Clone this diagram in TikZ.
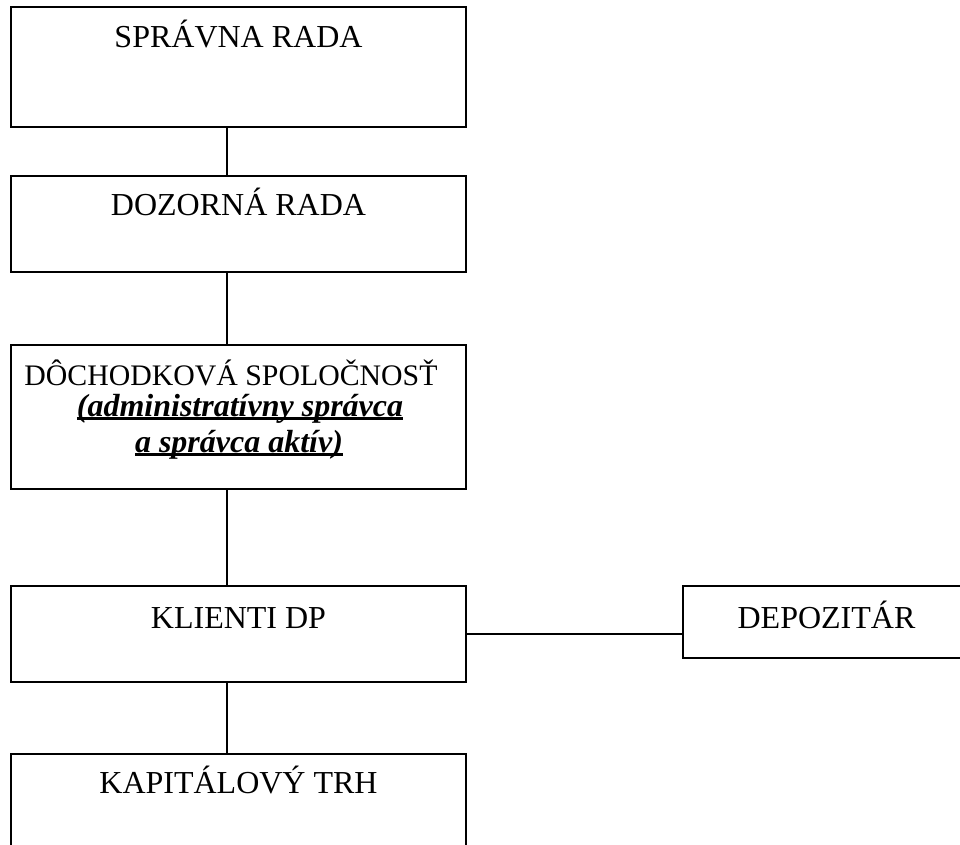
\documentclass[tikz,border=0pt]{standalone}
\usepackage{fontspec}
\setmainfont{Liberation Serif}
\newcommand\ulline[1]{\setbox0\hbox{#1}\rlap{\rule[-4pt]{\wd0}{2.8pt}}\box0}
\tikzset{
  box/.style={draw=black, line width=1.6pt, rectangle, inner sep=0pt, fill=none},
  txt/.style={anchor=base, inner sep=0pt, font=\fontsize{32}{34}\selectfont},
  stx/.style={txt, font=\fontsize{29.8}{32}\selectfont},
  itx/.style={txt, font=\fontsize{32}{34}\selectfont\bfseries\itshape},
  conn/.style={draw=black, line width=1.6pt}
}
\begin{document}
\begin{tikzpicture}[x=1pt,y=-1pt]
\useasboundingbox (0,0) rectangle (960,845);
\node[box, minimum width=455pt, minimum height=120pt] (b1) at (238.5,67) {};
\node[box, minimum width=455pt, minimum height=96pt] (b2) at (238.5,224) {};
\node[box, minimum width=455pt, minimum height=144pt] (b3) at (238.5,417) {};
\node[box, minimum width=455pt, minimum height=96pt] (b4) at (238.5,634) {};
\node[box, minimum width=455pt, minimum height=130pt] (b5) at (238.5,819) {};
\node[box, minimum width=287pt, minimum height=72pt] (dep) at (826.5,622) {};
\coordinate (spine) at (227,0);
\node[txt] (t1) at (238.5,48) {SPRÁVNA RADA};
\node[txt] (t2) at (238.5,215) {DOZORNÁ RADA};
\node[stx] (t3) at (231,385) {DÔCHODKOVÁ SPOLOČNOSŤ};
\node[itx] (t3b) at (240,416) {\ulline{(administratívny správca}};
\node[itx] (t3c) at (239,452) {\ulline{a správca aktív)}};
\node[txt] (t4) at (238.5,628) {KLIENTI DP};
\node[txt] (t5) at (238.5,793) {KAPITÁLOVÝ TRH};
\node[txt] (td) at (826.5,628) {DEPOZITÁR};
\draw[conn] (b1.south -| spine) -- (b2.north -| spine);
\draw[conn] (b2.south -| spine) -- (b3.north -| spine);
\draw[conn] (b3.south -| spine) -- (b4.north -| spine);
\draw[conn] (b4.south -| spine) -- (b5.north -| spine);
\draw[conn] (b4.east) -- (b4.east -| dep.west);
\end{tikzpicture}
\end{document}
